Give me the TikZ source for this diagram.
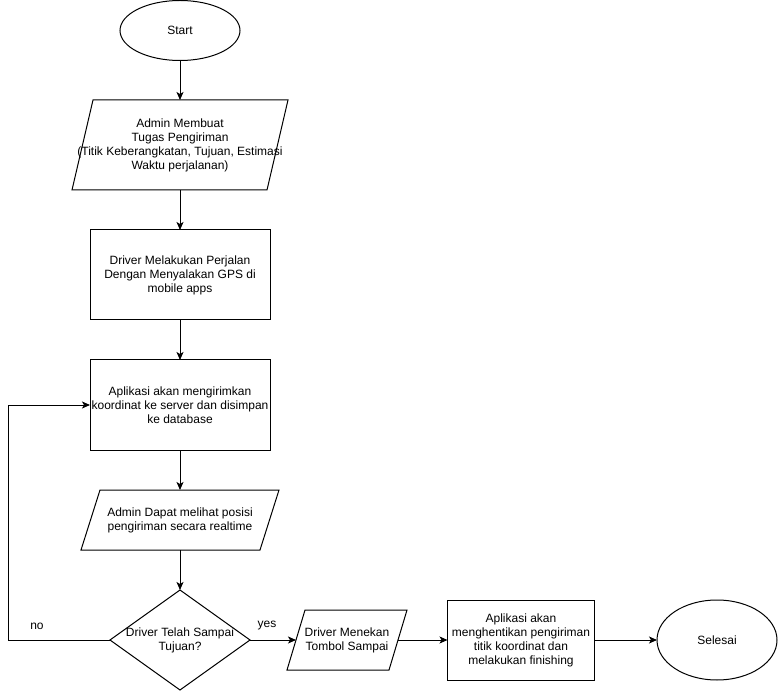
\documentclass[tikz,border=0pt]{standalone}
\usepackage{fontspec}
\setmainfont{Liberation Sans}
\usetikzlibrary{shapes.geometric,arrows.meta}
\begin{document}
\begin{tikzpicture}[x=1pt,y=-1pt,
  font=\fontsize{12}{14}\selectfont,
  base/.style={draw, line width=1pt, inner sep=0pt, outer sep=0pt},
  term/.style={base, ellipse, minimum width=120pt, minimum height=#1},
  proc/.style={base, rectangle, align=center},
  iobox/.style={rectangle, inner sep=0pt, outer sep=0pt},
  txt/.style={align=center, inner sep=0pt},
  arr/.style={line width=1pt, -{Stealth[length=8pt,width=7pt,inset=2pt]}},
  lbl/.style={inner sep=0pt},
  outline/.style={line width=1pt, line join=miter}
]
\useasboundingbox (0,0) rectangle (779,692);

\node[term=60pt] (start) at (180,30.5) {Start};

\node[iobox, minimum width=216pt, minimum height=90pt] (p1) at (180,145) {};
\draw[outline] (p1.south west) -- ([xshift=21pt]p1.north west) -- (p1.north east) -- ([xshift=-21pt]p1.south east) -- cycle;
\node[txt] (t1) at (p1.center) {Admin Membuat\\Tugas Pengiriman\\(Titik Keberangkatan, Tujuan, Estimasi\\Waktu perjalanan)};

\node[proc, minimum width=180pt, minimum height=90pt] (r2) at (180,275) {Driver Melakukan Perjalan\\Dengan Menyalakan GPS di\\mobile apps};
\node[proc, minimum width=180pt, minimum height=90pt] (r3) at (180,405) {Aplikasi akan mengirimkan\\koordinat ke server dan disimpan\\ke database};

\node[iobox, minimum width=198pt, minimum height=60pt] (p4) at (180,520) {};
\draw[outline] (p4.south west) -- ([xshift=19pt]p4.north west) -- (p4.north east) -- ([xshift=-19pt]p4.south east) -- cycle;
\node[txt] (t4) at (p4.center) {Admin Dapat melihat posisi\\pengiriman secara realtime};

\node[base, diamond, minimum width=140pt, minimum height=100pt] (d) at (180,640) {};
\node[txt] (td) at (d.center) {Driver Telah Sampai\\Tujuan?};

\node[iobox, minimum width=120pt, minimum height=60pt] (p5) at (347,640) {};
\draw[outline] (p5.south west) -- ([xshift=18pt]p5.north west) -- (p5.north east) -- ([xshift=-18pt]p5.south east) -- cycle;
\node[txt] (t5) at (p5.center) {Driver Menekan\\Tombol Sampai};

\node[proc, minimum width=147pt, minimum height=80pt] (r6) at (521,640) {Aplikasi akan\\menghentikan pengiriman\\titik koordinat dan\\melakukan finishing};
\node[term=80pt] (end) at (717,640) {Selesai};

\coordinate (loop) at (8,640);

\draw[arr] (start) -- (p1);
\draw[arr] (p1) -- (r2);
\draw[arr] (r2) -- (r3);
\draw[arr] (r3) -- (p4);
\draw[arr] (p4) -- (d);
\draw[arr] (d.west) -- (loop) |- (r3.west);
\draw[arr] (d.east) -- ([xshift=9pt]p5.west);
\draw[arr] ([xshift=-9pt]p5.east) -- (r6);
\draw[arr] (r6) -- (end);

\node[lbl] (no) at (37,626) {no};
\node[lbl] (yes) at (267,626) {yes};
\end{tikzpicture}
\end{document}
